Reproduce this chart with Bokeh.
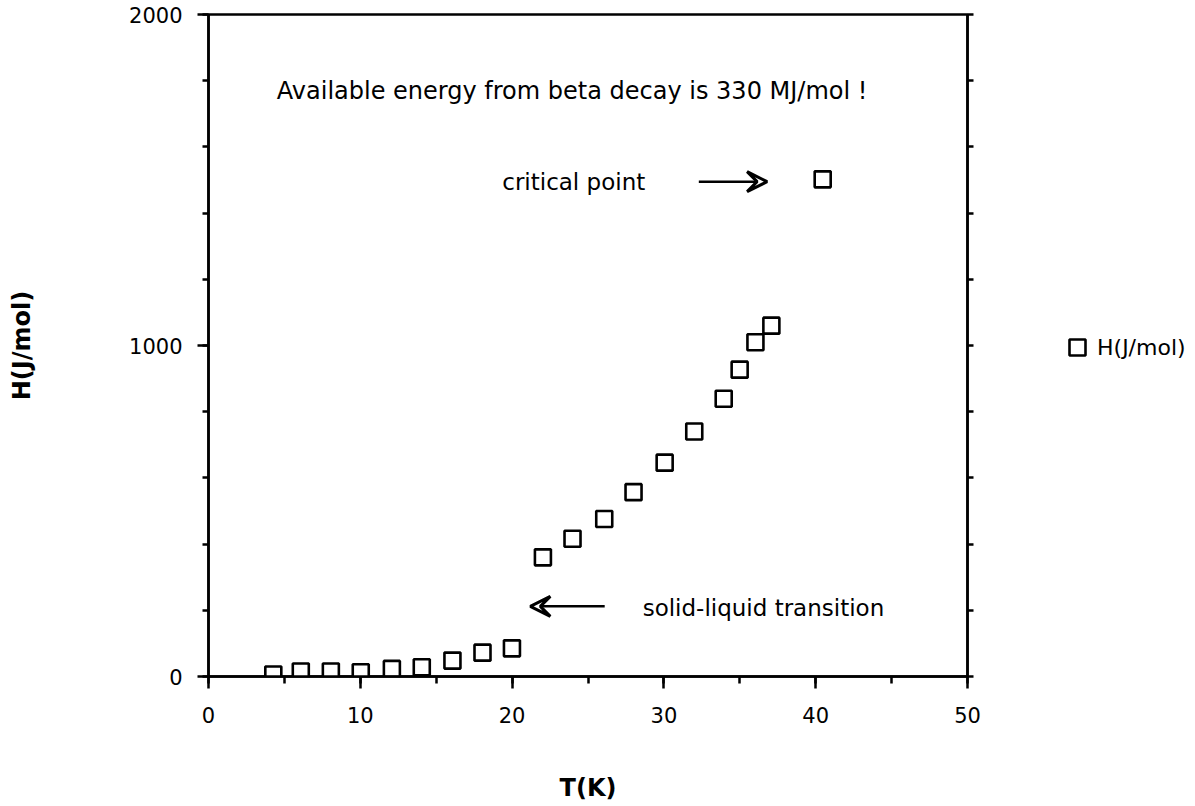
from bokeh.plotting import figure
from bokeh.layouts import row
from bokeh.models import (Range1d, FixedTicker, LinearAxis, Label, Arrow, VeeHead,
                          Legend, LegendItem, ColumnDataSource)
from bokeh.embed import file_html
from bokeh.resources import INLINE

# Data
T_K = [4.27, 6.08, 8.06, 10.03, 12.08, 14.05, 16.07, 18.05, 19.99,
       22.03, 23.98, 26.07, 28.0, 30.05, 32.0, 33.94, 34.99, 36.03, 37.08, 40.46]
H_J_mol = [6, 15, 15, 13, 23, 28, 48, 72, 85,
           360, 416, 476, 557, 646, 740, 839, 927, 1010, 1060, 1502]

x_major = [0, 10, 20, 30, 40, 50]
x_minor = [0, 5, 10, 15, 20, 25, 30, 35, 40, 45, 50]
y_major = [0, 1000, 2000]
y_minor = [0, 200, 400, 600, 800, 1000, 1200, 1400, 1600, 1800, 2000]

FONT = "DejaVu Sans"

p = figure(frame_width=759, frame_height=662, output_backend="svg", toolbar_location=None,
           x_range=Range1d(0, 50), y_range=Range1d(0, 2000),
           min_border_left=208, min_border_right=20, min_border_top=14,
           min_border_bottom=130)
p.background_fill_color = "white"
p.border_fill_color = "white"
p.outline_line_color = "black"
p.outline_line_width = 2.5
p.xgrid.visible = False
p.ygrid.visible = False

# Bottom axis
xa = p.xaxis[0]
xa.ticker = FixedTicker(ticks=x_major, minor_ticks=x_minor)
xa.axis_label = "T(K)"
xa.axis_label_text_font = FONT
xa.axis_label_text_font_style = "bold"
xa.axis_label_text_font_size = "24px"
xa.axis_label_text_color = "black"
xa.axis_label_standoff = 48
xa.major_label_text_font = FONT
xa.major_label_text_font_size = "21px"
xa.major_label_text_color = "black"
xa.major_label_standoff = 18
xa.axis_line_width = 2.5
xa.major_tick_line_width = 2.5
xa.minor_tick_line_width = 2.5
xa.major_tick_in = 0
xa.major_tick_out = 12
xa.minor_tick_in = 0
xa.minor_tick_out = 7

# Left axis
ya = p.yaxis[0]
ya.ticker = FixedTicker(ticks=y_major, minor_ticks=y_minor)
ya.axis_label = "H(J/mol)"
ya.axis_label_text_font = FONT
ya.axis_label_text_font_style = "bold"
ya.axis_label_text_font_size = "24px"
ya.axis_label_text_color = "black"
ya.axis_label_standoff = 90
ya.major_label_text_font = FONT
ya.major_label_text_font_size = "21px"
ya.major_label_text_color = "black"
ya.major_label_standoff = 15
ya.axis_line_width = 2.5
ya.major_tick_line_width = 2.5
ya.minor_tick_line_width = 2.5
ya.major_tick_in = 0
ya.major_tick_out = 11
ya.minor_tick_in = 0
ya.minor_tick_out = 6

# Right axis (minor ticks only, no labels)
ra = LinearAxis(ticker=FixedTicker(ticks=[], minor_ticks=y_minor))
ra.axis_line_width = 2.5
ra.minor_tick_line_width = 2.5
ra.minor_tick_in = 0
ra.minor_tick_out = 6
ra.major_tick_in = 0
ra.major_tick_out = 6
p.add_layout(ra, "right")

src = ColumnDataSource(dict(T=T_K, H=H_J_mol))
p.scatter("T", "H", source=src, marker="square", size=16,
          fill_color="white", line_color="black", line_width=2.6)

# Annotations
p.add_layout(Label(x=4.5, y=1770, text="Available energy from beta decay is 330 MJ/mol !",
                   text_font=FONT, text_font_size="24px", text_color="black",
                   text_baseline="middle"))
p.add_layout(Label(x=19.35, y=1495, text="critical point",
                   text_font=FONT, text_font_size="23px", text_color="black",
                   text_baseline="middle"))
p.add_layout(Label(x=28.6, y=208, text="solid-liquid transition",
                   text_font=FONT, text_font_size="23px", text_color="black",
                   text_baseline="middle"))

p.add_layout(Arrow(end=VeeHead(size=20, fill_color="white", line_color="black", line_width=3),
                   x_start=32.3, y_start=1495, x_end=36.8, y_end=1495, line_width=2.5))
p.add_layout(Arrow(end=VeeHead(size=20, fill_color="white", line_color="black", line_width=3),
                   x_start=26.1, y_start=212, x_end=21.2, y_end=212, line_width=2.5))

# Legend panel to the right of the plot (same series; its points fall outside this panel's range)
lf = figure(width=208, height=806, output_backend="svg", toolbar_location=None,
            x_range=Range1d(0, 1), y_range=Range1d(0, 1),
            x_axis_location=None, y_axis_location=None, min_border=0)
lf.outline_line_color = None
lf.xgrid.visible = False
lf.ygrid.visible = False
lf.background_fill_color = "white"
lf.border_fill_color = "white"
key = lf.scatter("T", "H", source=src, marker="square", size=16,
                 fill_color="white", line_color="black", line_width=2.6)
legend = Legend(items=[LegendItem(label="H(J/mol)", renderers=[key])],
                location=(70, 309), margin=0, padding=5, border_line_color=None,
                background_fill_alpha=0, label_text_font=FONT,
                label_text_font_size="22px", label_text_color="black",
                label_standoff=0, glyph_width=40, glyph_height=40)
lf.add_layout(legend, "center")

layout = row(p, lf)
open("out.html", "w").write(file_html(layout, INLINE))
